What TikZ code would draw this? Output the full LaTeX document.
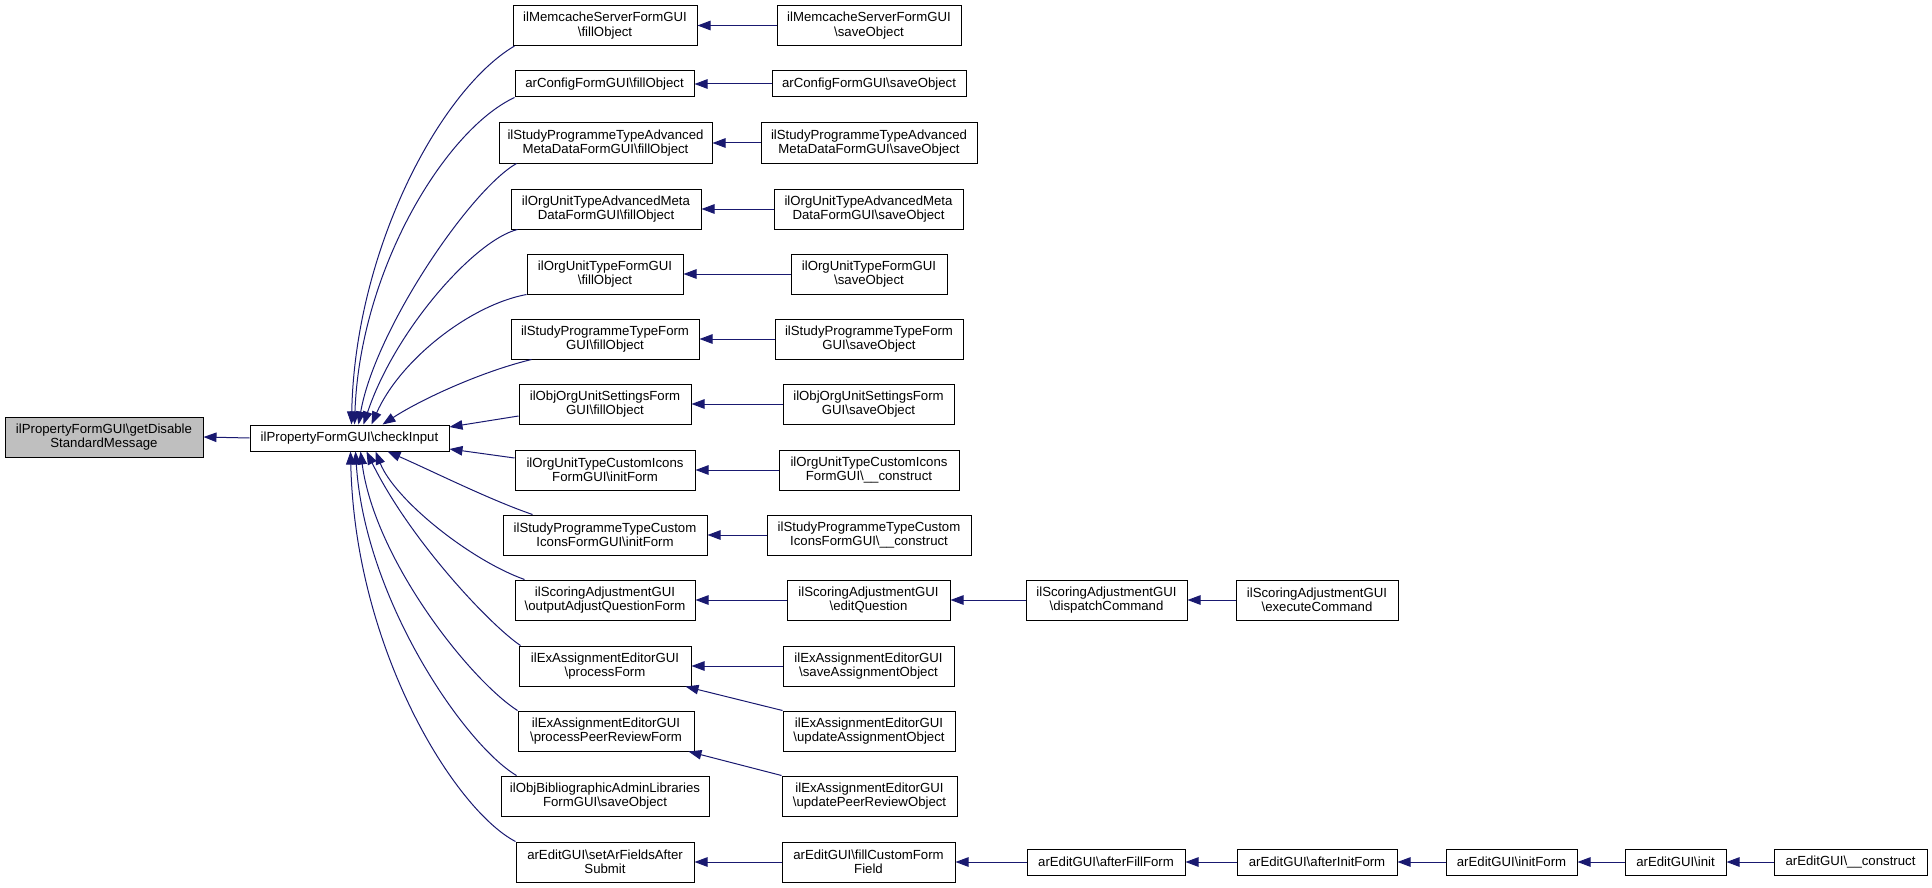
\documentclass[tikz,border=0pt]{standalone}
\usepackage{fontspec}
\setmainfont{Liberation Sans}
\usetikzlibrary{arrows.meta,calc}
\definecolor{edgec}{RGB}{25,25,112}
\definecolor{rootfill}{RGB}{191,191,191}
\newcommand{\bs}{\textbackslash}
\begin{document}
\begin{tikzpicture}[x=1pt,y=-1pt,
  box/.style={draw=black,line width=1pt,fill=white,inner sep=0pt,align=center,
    font=\fontsize{13.2}{14.5}\selectfont},
  edge/.style={draw=edgec,line width=1pt,-{Triangle[length=13pt,width=9.5pt]}}]
\useasboundingbox (0,0) rectangle (1932,888);
% root and checkInput
\node[box,fill=rootfill,minimum width=198pt,minimum height=40pt] (root) at (104,437) {ilPropertyFormGUI\bs getDisable\\StandardMessage};
\node[box,minimum width=199pt,minimum height=26pt] (ci) at (349.5,438) {ilPropertyFormGUI\bs checkInput};
% column 2
\node[box,minimum width=184pt,minimum height=40pt] (n1) at (605,25.5) {ilMemcacheServerFormGUI\\\bs fillObject};
\node[box,minimum width=179pt,minimum height=26pt] (n2) at (604.5,84) {arConfigFormGUI\bs fillObject};
\node[box,minimum width=213pt,minimum height=40pt] (n3) at (605.5,143) {ilStudyProgrammeTypeAdvanced\\MetaDataFormGUI\bs fillObject};
\node[box,minimum width=190pt,minimum height=40pt] (n4) at (606,209) {ilOrgUnitTypeAdvancedMeta\\DataFormGUI\bs fillObject};
\node[box,minimum width=156pt,minimum height=40pt] (n5) at (605,274) {ilOrgUnitTypeFormGUI\\\bs fillObject};
\node[box,minimum width=188pt,minimum height=40pt] (n6) at (605,339) {ilStudyProgrammeTypeForm\\GUI\bs fillObject};
\node[box,minimum width=172pt,minimum height=40pt] (n7) at (605,404) {ilObjOrgUnitSettingsForm\\GUI\bs fillObject};
\node[box,minimum width=180pt,minimum height=40pt] (n8) at (605,470) {ilOrgUnitTypeCustomIcons\\FormGUI\bs initForm};
\node[box,minimum width=204pt,minimum height=40pt] (n9) at (605,535) {ilStudyProgrammeTypeCustom\\IconsFormGUI\bs initForm};
\node[box,minimum width=180pt,minimum height=40pt] (n10) at (605,600) {ilScoringAdjustmentGUI\\\bs outputAdjustQuestionForm};
\node[box,minimum width=172pt,minimum height=40pt] (n11) at (605,666) {ilExAssignmentEditorGUI\\\bs processForm};
\node[box,minimum width=176pt,minimum height=40pt] (n12) at (606,731) {ilExAssignmentEditorGUI\\\bs processPeerReviewForm};
\node[box,minimum width=208pt,minimum height=40pt] (n13) at (605,796) {ilObjBibliographicAdminLibraries\\FormGUI\bs saveObject};
\node[box,minimum width=178pt,minimum height=40pt] (n14) at (605,862) {arEditGUI\bs setArFieldsAfter\\Submit};
% column 3
\node[box,minimum width=184pt,minimum height=40pt] (m1) at (869,25.5) {ilMemcacheServerFormGUI\\\bs saveObject};
\node[box,minimum width=194pt,minimum height=26pt] (m2) at (869,84) {arConfigFormGUI\bs saveObject};
\node[box,minimum width=216pt,minimum height=40pt] (m3) at (869,143) {ilStudyProgrammeTypeAdvanced\\MetaDataFormGUI\bs saveObject};
\node[box,minimum width=189pt,minimum height=40pt] (m4) at (868.5,209) {ilOrgUnitTypeAdvancedMeta\\DataFormGUI\bs saveObject};
\node[box,minimum width=156pt,minimum height=40pt] (m5) at (869,274) {ilOrgUnitTypeFormGUI\\\bs saveObject};
\node[box,minimum width=188pt,minimum height=40pt] (m6) at (869,339) {ilStudyProgrammeTypeForm\\GUI\bs saveObject};
\node[box,minimum width=171pt,minimum height=40pt] (m7) at (868.5,404) {ilObjOrgUnitSettingsForm\\GUI\bs saveObject};
\node[box,minimum width=180pt,minimum height=40pt] (m8) at (869,470) {ilOrgUnitTypeCustomIcons\\FormGUI\bs\_\_construct};
\node[box,minimum width=204pt,minimum height=40pt] (m9) at (869,535) {ilStudyProgrammeTypeCustom\\IconsFormGUI\bs\_\_construct};
\node[box,minimum width=163pt,minimum height=40pt] (m10) at (868.5,600) {ilScoringAdjustmentGUI\\\bs editQuestion};
\node[box,minimum width=171pt,minimum height=40pt] (m11) at (868.5,666) {ilExAssignmentEditorGUI\\\bs saveAssignmentObject};
\node[box,minimum width=172pt,minimum height=40pt] (m12) at (869,731) {ilExAssignmentEditorGUI\\\bs updateAssignmentObject};
\node[box,minimum width=175pt,minimum height=40pt] (m13) at (869.5,796) {ilExAssignmentEditorGUI\\\bs updatePeerReviewObject};
\node[box,minimum width=173pt,minimum height=40pt] (m14) at (868.5,862) {arEditGUI\bs fillCustomForm\\Field};
% further columns
\node[box,minimum width=161pt,minimum height=40pt] (d1) at (1106.5,600) {ilScoringAdjustmentGUI\\\bs dispatchCommand};
\node[box,minimum width=162pt,minimum height=40pt] (d2) at (1317,600) {ilScoringAdjustmentGUI\\\bs executeCommand};
\node[box,minimum width=158pt,minimum height=26pt] (e1) at (1106,862) {arEditGUI\bs afterFillForm};
\node[box,minimum width=160pt,minimum height=26pt] (e2) at (1317,862) {arEditGUI\bs afterInitForm};
\node[box,minimum width=131pt,minimum height=26pt] (e3) at (1511.5,862) {arEditGUI\bs initForm};
\node[box,minimum width=101pt,minimum height=26pt] (e4) at (1675.5,862) {arEditGUI\bs init};
\node[box,minimum width=153pt,minimum height=26pt] (e5) at (1850.5,862) {arEditGUI\bs\_\_construct};
% edges
\draw[edge] (ci.west) -- (root.east);
\foreach \i in {1,...,11,14} { \draw[edge] (m\i.west) -- (n\i.east); }
\draw[edge] (m12.north west) -- ([xshift=-6pt]n11.south east);
\draw[edge] (m13.north west) -- ([xshift=-6pt]n12.south east);
\draw[edge] (d1.west) -- (m10.east);
\draw[edge] (d2.west) -- (d1.east);
\draw[edge] (e1.west) -- (m14.east);
\draw[edge] (e2.west) -- (e1.east);
\draw[edge] (e3.west) -- (e2.east);
\draw[edge] (e4.west) -- (e3.east);
\draw[edge] (e5.west) -- (e4.east);
% curves into checkInput (top)
\draw[edge] ([xshift=2pt]n1.south west) .. controls (440,90) and (355,250) .. ($(ci.north west)+(102,0)$);
\draw[edge] (n2.south west) .. controls (445,130) and (360,270) .. ($(ci.north west)+(105,0)$);
\draw[edge] ([xshift=18pt]n3.south west) .. controls (470,190) and (375,330) .. ($(ci.north west)+(109,0)$);
\draw[edge] ([xshift=7pt]n4.south west) .. controls (475,240) and (395,330) .. ($(ci.north west)+(114,0)$);
\draw[edge] (n5.south west) .. controls (470,305) and (400,360) .. ($(ci.north west)+(122,0)$);
\draw[edge] ([xshift=21pt]n6.south west) .. controls (480,372) and (420,400) .. ($(ci.north west)+(133,0)$);
\draw[edge] ([yshift=-12pt]n7.west) -- ([yshift=11pt]ci.east);
% curves into checkInput (bottom)
\draw[edge] ([yshift=12pt]n8.west) -- ([yshift=-11pt]ci.east);
\draw[edge] ([xshift=30pt]n9.north west) .. controls (490,500) and (430,470) .. ($(ci.south west)+(138,0)$);
\draw[edge] ([xshift=10pt]n10.north west) .. controls (470,560) and (395,500) .. ($(ci.south west)+(126,0)$);
\draw[edge] ([xshift=2pt]n11.north west) .. controls (490,625) and (410,540) .. ($(ci.south west)+(117,0)$);
\draw[edge] (n12.north west) .. controls (470,680) and (375,560) .. ($(ci.south west)+(111,0)$);
\draw[edge] ([xshift=16pt]n13.north west) .. controls (465,745) and (365,600) .. ($(ci.south west)+(106,0)$);
\draw[edge] (n14.north west) .. controls (455,810) and (355,650) .. ($(ci.south west)+(101,0)$);
\end{tikzpicture}
\end{document}
